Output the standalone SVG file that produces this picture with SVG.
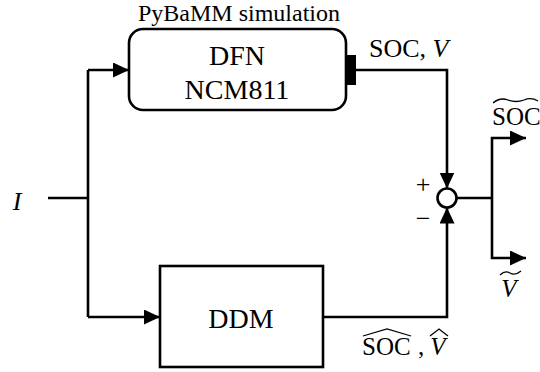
<svg xmlns="http://www.w3.org/2000/svg" width="540" height="372" viewBox="0 0 540 372">
<style>
.box{fill:#fff;stroke:#000;stroke-width:2.6}
.ln{fill:none;stroke:#000;stroke-width:2.6}
.acc{fill:none;stroke:#000;stroke-width:1.3}
text{font-family:'Liberation Serif','Times New Roman',serif;fill:#000}
</style>
<defs>
<marker id="arr" markerUnits="userSpaceOnUse" markerWidth="17" markerHeight="16" refX="16" refY="7.5" orient="auto">
<path d="M0,0 L16,7.5 L0,15 z" fill="#000"/>
</marker>
</defs>
<g id="connectors">
<path class="ln" d="M48,198 H88"/>
<path class="ln" d="M88,70 V317"/>
<path class="ln" d="M88,70 H129" marker-end="url(#arr)"/>
<path class="ln" d="M88,317 H160" marker-end="url(#arr)"/>
<path class="ln" d="M356,70 H447 V188.5" marker-end="url(#arr)"/>
<path class="ln" d="M323,317 H447 V207.5" marker-end="url(#arr)"/>
<path class="ln" d="M457,198 H492"/>
<path class="ln" d="M492,198 V138 H526" marker-end="url(#arr)"/>
<path class="ln" d="M492,198 V258 H526" marker-end="url(#arr)"/>
</g>
<g id="dfn">
<text x="239" y="21" font-size="24" text-anchor="middle">PyBaMM simulation</text>
<rect class="box" x="129" y="29" width="217" height="81" rx="14"/>
<rect x="346" y="55" width="10" height="30" fill="#000"/>
<text x="237" y="65" font-size="28" text-anchor="middle">DFN</text>
<text x="237" y="99" font-size="28" text-anchor="middle">NCM811</text>
</g>
<g id="ddm">
<rect class="box" x="160" y="266" width="163" height="101"/>
<text x="241" y="328" font-size="28" text-anchor="middle">DDM</text>
</g>
<g id="sum">
<circle cx="447" cy="198" r="9.5" fill="#fff" stroke="#000" stroke-width="2.6"/>
<text x="423" y="193" font-size="26" text-anchor="middle">+</text>
<text x="423" y="227" font-size="26" text-anchor="middle">−</text>
</g>
<g id="labels">
<text x="17" y="210" font-size="26" font-style="italic" text-anchor="middle">I</text>
<text x="369" y="57" font-size="26">SOC, <tspan font-style="italic">V</tspan></text>
<text x="492" y="125" font-size="25">SOC</text>
<path class="acc" d="M493,103 Q500,97 508,100 Q516,103 524,100 Q531,97 538,101"/>
<text x="509" y="297" font-size="25" font-style="italic" text-anchor="middle">V</text>
<path class="acc" d="M500,275 Q505,270 510,273 Q515,276 521,271"/>
<text x="362" y="355" font-size="25">SOC</text>
<text x="418" y="355" font-size="25">,</text>
<text x="438" y="355" font-size="25" font-style="italic" text-anchor="middle">V</text>
<path class="acc" d="M363,336 L387,329 L411,336"/>
<path class="acc" d="M430,336 L439,329 L448,336"/>
</g>
</svg>
